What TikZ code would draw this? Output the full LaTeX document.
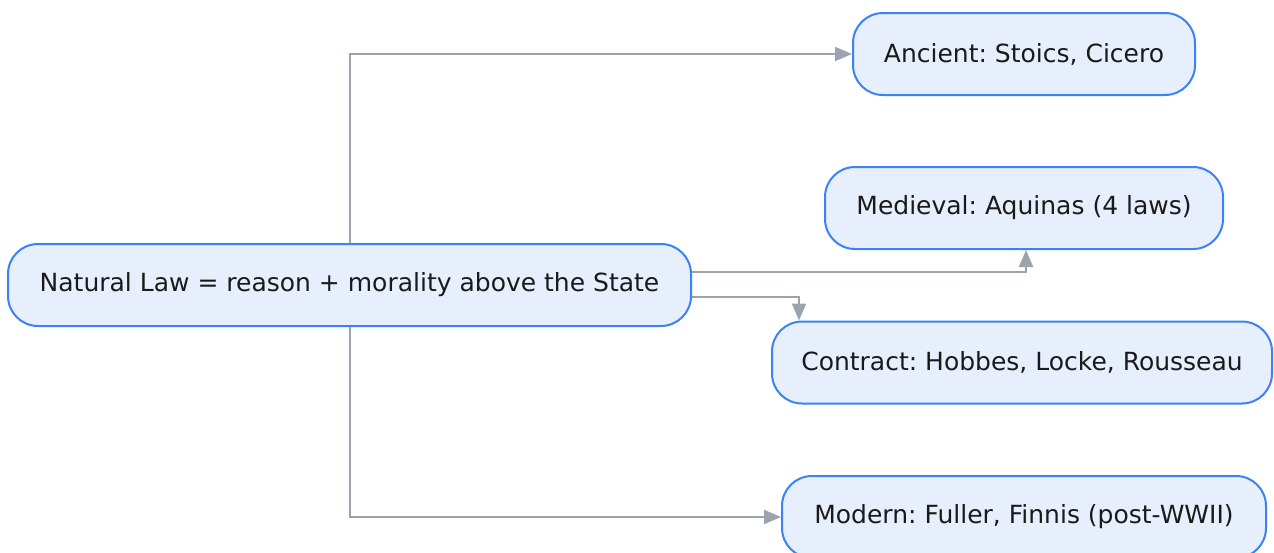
\documentclass[tikz,border=0pt]{standalone}
\usepackage{fontspec}
\setmainfont{DejaVu Sans}
\frenchspacing
\usetikzlibrary{arrows.meta}
\definecolor{boxline}{HTML}{3B82F6}
\definecolor{boxfill}{HTML}{E8EFFC}
\definecolor{boxtext}{HTML}{1A1A1A}
\definecolor{linkgray}{HTML}{9CA3AF}
\tikzstyle{era} = [rectangle, rounded corners=15pt, minimum height=41pt, inner sep=0pt, text centered, draw=boxline, line width=1pt, fill=boxfill, text=boxtext, font=\fontsize{12.5}{15}\selectfont]
\tikzstyle{arrow} = [draw=linkgray, line width=1pt, -{Triangle[length=8.5pt,width=7pt]}]

\begin{document}
\begin{tikzpicture}[x=0.5pt, y=-0.5pt]
    \useasboundingbox (0,0) rectangle (1274,552);

    % Nodes
    \node (naturalLaw) [era, minimum width=341.5pt] at (349.5,285) {Natural Law = reason + morality above the State};
    \node (ancient) [era, minimum width=171pt] at (1024,54) {Ancient: Stoics, Cicero};
    \node (medieval) [era, minimum width=199pt] at (1024,208) {Medieval: Aquinas (4 laws)};
    \node (contract) [era, minimum width=250pt] at (1022,362.5) {Contract: Hobbes, Locke, Rousseau};
    \node (modern) [era, minimum width=242pt] at (1024,517) {Modern: Fuller, Finnis (post-WWII)};

    % Arrows
    \draw [arrow] (naturalLaw.north) |- (ancient.west);
    \draw [arrow] ([yshift=6.5pt]naturalLaw.east) -| ([xshift=1pt]medieval.south);
    \draw [arrow] ([yshift=-6pt]naturalLaw.east) -| ([xshift=14pt]contract.north west);
    \draw [arrow] (naturalLaw.south) |- (modern.west);

\end{tikzpicture}
\end{document}
